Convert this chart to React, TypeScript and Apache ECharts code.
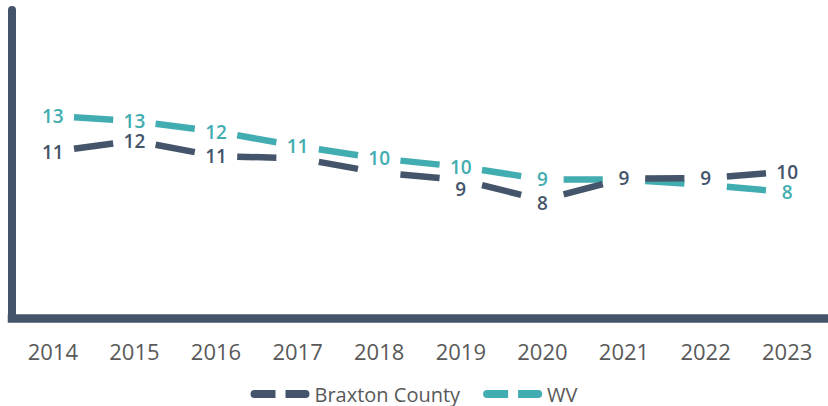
import React, { useEffect, useRef } from "react";
import * as echarts from "echarts";

const years = ["2014", "2015", "2016", "2017", "2018", "2019", "2020", "2021", "2022", "2023"];
const braxtonCounty = [10.8, 11.51, 10.51, 10.38, 9.44, 8.97, 7.66, 9.06, 9.07, 9.51];
const wv = [13.12, 12.79, 12.11, 11.17, 10.36, 9.82, 9.0, 8.99, 8.65, 8.17];
const braxtonHiddenLabels = [3, 4];
const wvHiddenLabels = [7, 8];

const DARK = "#44546A";
const TEAL = "#42ADB0";
const GRAY = "#595959";

const legendIcon =
  "path://M4,0L25,0L25,8L4,8A4,4,0,0,1,4,0ZM35,0L55,0A4,4,0,0,1,55,8L35,8Z";

function makeSeries(
  name: string,
  values: number[],
  color: string,
  hidden: number[],
  labelDy: Record<number, number>
) {
  return {
    type: "custom",
    name,
    data: values.map((v, i) => [i, v]),
    encode: { x: 0, y: 1 },
    itemStyle: { color },
    clip: false,
    renderItem: (params: any, api: any) => {
      const i = params.dataIndex;
      const p = api.coord([i, values[i]]);
      const children: any[] = [];
      if (i < values.length - 1) {
        const q = api.coord([i + 1, values[i + 1]]);
        const t0 = 0.26;
        const t1 = 0.74;
        children.push({
          type: "line",
          shape: {
            x1: p[0] + (q[0] - p[0]) * t0,
            y1: p[1] + (q[1] - p[1]) * t0,
            x2: p[0] + (q[0] - p[0]) * t1,
            y2: p[1] + (q[1] - p[1]) * t1,
          },
          style: { stroke: color, lineWidth: 6.5, lineCap: "butt" },
        });
      }
      if (!hidden.includes(i)) {
        children.push({
          type: "text",
          style: {
            text: String(Math.round(values[i])),
            x: p[0],
            y: p[1] + (labelDy[i] || 0),
            align: "center",
            verticalAlign: "middle",
            fill: color,
            fontSize: 19,
            fontWeight: 600,
            fontFamily: "Open Sans",
          },
        });
      }
      return { type: "group", children };
    },
  };
}

export default function App() {
  const ref = useRef<HTMLDivElement>(null);
  useEffect(() => {
    if (!ref.current) return;
    const chart = echarts.init(ref.current, null, { renderer: "svg" });
    chart.setOption({
      animation: false,
      backgroundColor: "#ffffff",
      grid: { left: 12, top: 10, width: 827, height: 308 },
      legend: {
        left: "center",
        top: 379,
        itemGap: 23,
        itemWidth: 59,
        itemHeight: 8,
        textStyle: { color: GRAY, fontSize: 20, fontFamily: "Open Sans" },
        data: [
          { name: "Braxton County", icon: legendIcon },
          { name: "WV", icon: legendIcon },
        ],
      },
      xAxis: {
        type: "category",
        data: years,
        boundaryGap: true,
        axisLine: { show: true, lineStyle: { color: DARK, width: 8.5, cap: "square" } },
        axisTick: { show: false },
        axisLabel: { color: GRAY, fontSize: 22, margin: 22, fontFamily: "Open Sans" },
      },
      yAxis: {
        type: "value",
        min: 0,
        max: 20,
        axisLine: { show: true, lineStyle: { color: DARK, width: 8 } },
        axisTick: { show: false },
        axisLabel: { show: false },
        splitLine: { show: false },
      },
      series: [
        makeSeries("WV", wv, TEAL, wvHiddenLabels, {}),
        makeSeries("Braxton County", braxtonCounty, DARK, braxtonHiddenLabels, { 5: 9, 6: 3 }),
      ],
    });
    return () => chart.dispose();
  }, []);
  return (
    <div
      ref={ref}
      style={{ position: "fixed", left: 0, top: 0, width: 828, height: 406 }}
    />
  );
}
